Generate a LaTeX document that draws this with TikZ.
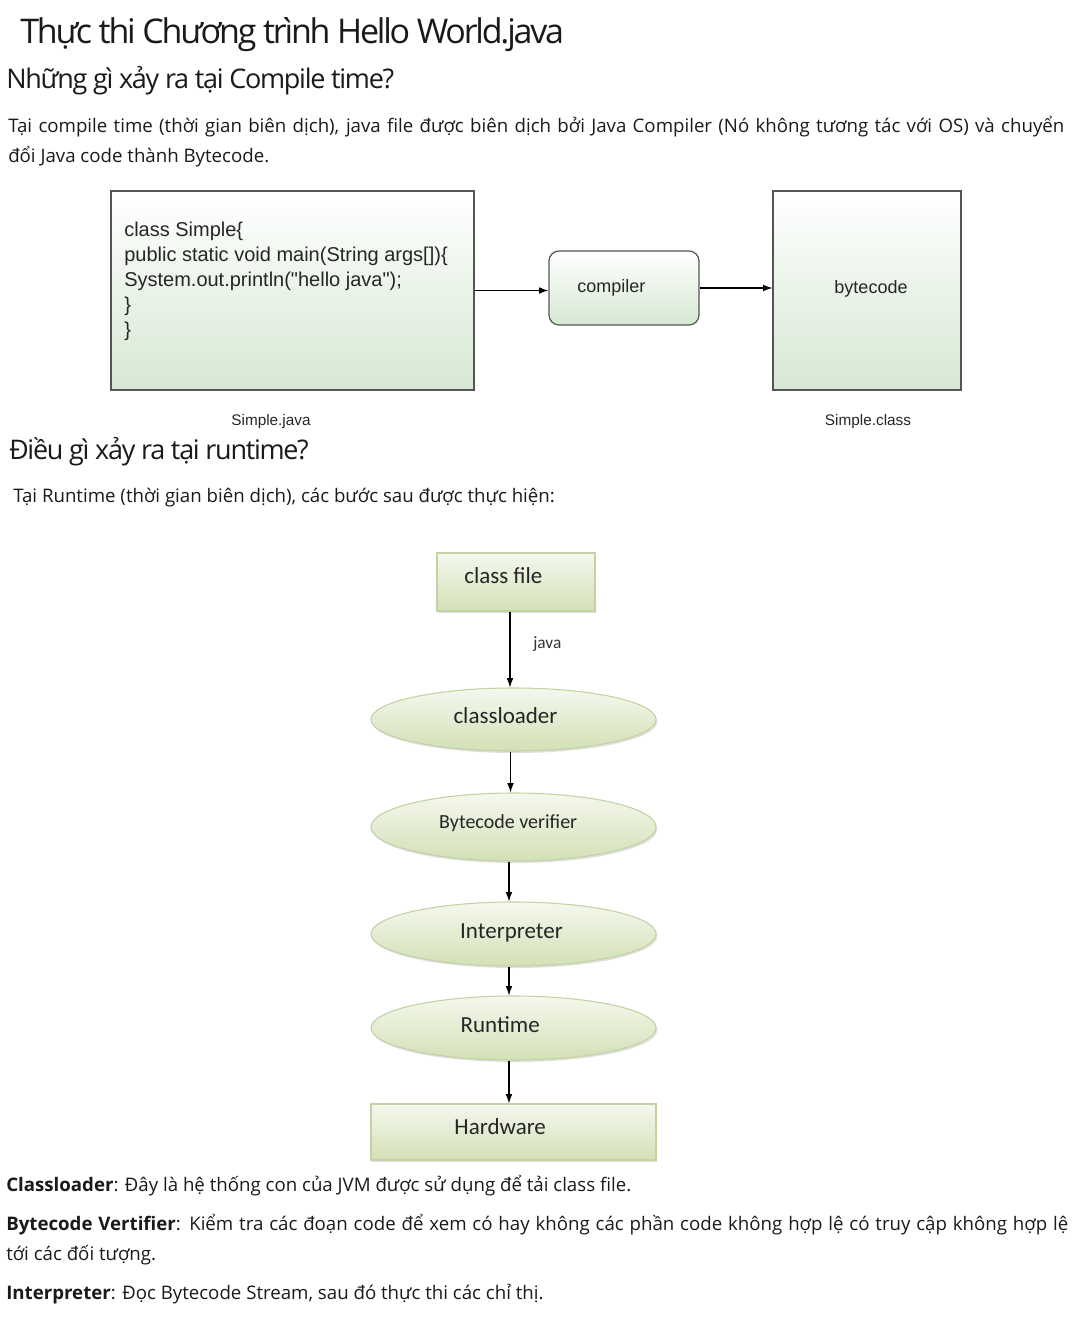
\documentclass[tikz,border=0pt]{standalone}
\usepackage{fontspec}
\setmainfont{Open Sans}
\newfontfamily\titlefont[LetterSpace=-6.5]{Open Sans}
\newfontfamily\headfont[LetterSpace=-4.8]{Open Sans}
\newfontfamily\arialfont{Liberation Sans}
\newfontfamily\calfont{Carlito}
\usetikzlibrary{arrows.meta,shapes.geometric,shadows}
\definecolor{txt}{HTML}{1A1A1A}
\definecolor{boxbot}{HTML}{D6E8D3}
\definecolor{boxline}{HTML}{555555}
\definecolor{elltop}{HTML}{F5F8EE}
\definecolor{ellbot}{HTML}{D3E0B6}
\definecolor{ellline}{HTML}{C3D2A3}
\tikzset{
  bodytext/.style={anchor=base west, inner sep=0, text=txt, font=\fontsize{14}{16}\selectfont},
  headtext/.style={anchor=base west, inner sep=0, text=txt, font=\headfont\fontsize{20.25}{24}\selectfont},
  gbox/.style={draw=boxline, line width=0.9pt, top color=white, bottom color=boxbot, inner sep=0},
  arr/.style={-{Latex[length=7pt,width=5pt]}, line width=0.8pt, black},
  pale/.style={draw=ellline, line width=0.8pt, top color=elltop, bottom color=ellbot, inner sep=0,
     drop shadow={opacity=0.25, shadow xshift=1pt, shadow yshift=-1.5pt},
     font=\calfont\fontsize{17.25}{20}\selectfont, text=black!85},
  ell/.style={pale, ellipse, minimum width=213.75pt},
  arialtxt/.style={font=\arialfont\fontsize{13.5}{16}\selectfont, text=black!85}
}
\begin{document}
\begin{tikzpicture}[x=0.75pt,y=-0.75pt]
\useasboundingbox[fill=white] (0,0) rectangle (1086,1320);
% headings and text
\node[anchor=base west, inner sep=0, text=txt, font=\titlefont\fontsize{25.5}{30}\selectfont] (title) at (20,44) {Thực thi Chương trình Hello World.java};
\node[headtext] (h1) at (6,89) {Những gì xảy ra tại Compile time?};
\node[bodytext] (p1) at (8,132) {\makebox[792pt][s]{Tại compile time (thời gian biên dịch), java file được biên dịch bởi Java Compiler (Nó không tương tác với OS) và chuyển}};
\node[bodytext] (p2) at (8,162) {đổi Java code thành Bytecode.};
% compile-time diagram
\node[gbox, minimum width=272.25pt, minimum height=149.25pt] (src) at (292.5,290.5) {};
\node[anchor=north west, inner sep=0, align=left, font=\arialfont\fontsize{15}{18.75}\selectfont, text=black!85] (code) at (124,222)
  {class Simple\{\\public static void main(String args[])\{\\System.out.println("hello java");\\\}\\\}};
\node[gbox, rounded corners=7.5pt, minimum width=112.5pt, minimum height=55.5pt, arialtxt] (comp) at (624,288) {\hspace*{-19pt}compiler};
\node[gbox, minimum width=141pt, minimum height=149.25pt, arialtxt] (bc) at (867,290.5) {\raisebox{6pt}{\hspace*{6pt}bytecode}};
\draw[arr] (src.east) -- (src.east -| comp.west);
\draw[arr] (comp.east) -- (comp.east -| bc.west);
\node[font=\arialfont\fontsize{11.5}{14}\selectfont, text=black!85] (sj) at (271,422) {Simple.java};
\node[font=\arialfont\fontsize{11.5}{14}\selectfont, text=black!85] (sc) at (868,422) {Simple.class};
% runtime
\node[headtext] (h2) at (9,459) {Điều gì xảy ra tại runtime?};
\node[bodytext] (p3) at (13,502) {Tại Runtime (thời gian biên dịch), các bước sau được thực hiện:};
\node[pale, minimum width=118.5pt, minimum height=43.5pt] (cf) at (516,582) {\raisebox{10pt}{class file\hspace*{19pt}}};
\node[ell, minimum height=47.25pt] (cl) at (513.5,719.5) {\raisebox{5.5pt}{classloader\hspace*{12pt}}};
\node[ell, minimum height=51pt, font=\calfont\fontsize{15}{18}\selectfont] (bv) at (513.5,827) {\raisebox{7.5pt}{Bytecode verifier\hspace*{8pt}}};
\node[ell, minimum height=48pt] (in) at (513.5,934) {\raisebox{4.5pt}{Interpreter\hspace*{3pt}}};
\node[ell, minimum height=48pt] (rt) at (513.5,1028) {\raisebox{4.5pt}{Runtime\hspace*{20pt}}};
\node[pale, minimum width=213.75pt, minimum height=42pt] (hw) at (513.5,1132) {\raisebox{8.5pt}{Hardware\hspace*{20pt}}};
\draw[arr] ([xshift=-4.5pt]cf.south) -- ([xshift=-4.5pt]cf.south |- cl.north);
\node[anchor=base west, inner sep=0, font=\calfont\fontsize{13}{15}\selectfont, text=black!80] (jv) at (533,648) {java};
\draw[arr] ([xshift=-2.25pt]cl.south) -- ([xshift=-2.25pt]cl.south |- bv.north);
\draw[arr] ([xshift=-3.4pt]bv.south) -- ([xshift=-3.4pt]bv.south |- in.north);
\draw[arr] ([xshift=-3.4pt]in.south) -- ([xshift=-3.4pt]in.south |- rt.north);
\draw[arr] ([xshift=-3.4pt]rt.south) -- ([xshift=-3.4pt]rt.south |- hw.north);
% bottom text
\node[bodytext] (b1) at (6,1191) {\textbf{Classloader}: Đây là hệ thống con của JVM được sử dụng để tải class file.};
\node[bodytext] (b2) at (6,1230) {\makebox[796.5pt][s]{\textbf{Bytecode Vertifier}: Kiểm tra các đoạn code để xem có hay không các phần code không hợp lệ có truy cập không hợp lệ}};
\node[bodytext] (b3) at (6,1260) {tới các đối tượng.};
\node[bodytext] (b4) at (6,1299) {\textbf{Interpreter}: Đọc Bytecode Stream, sau đó thực thi các chỉ thị.};
\end{tikzpicture}
\end{document}
